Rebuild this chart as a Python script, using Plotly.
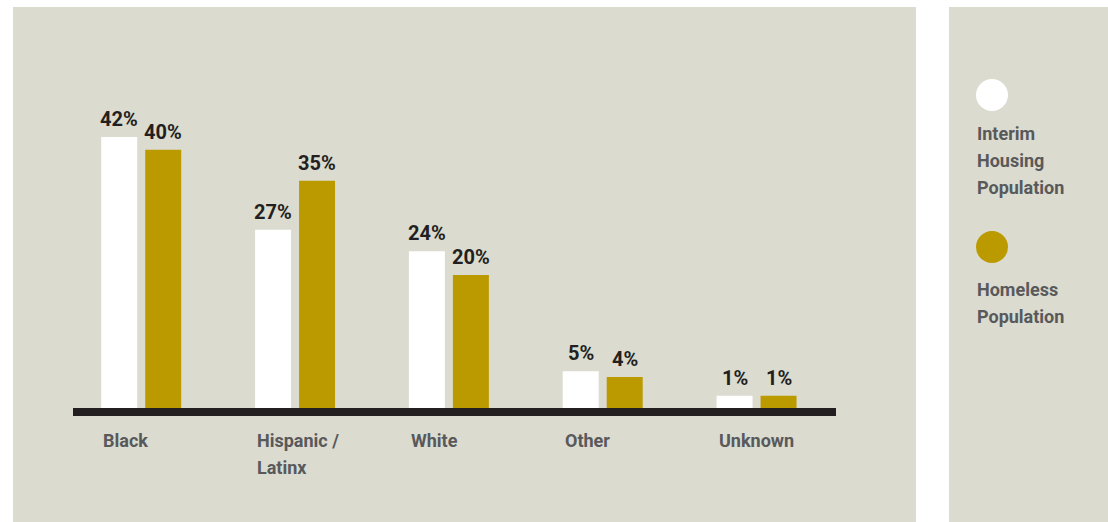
import plotly.graph_objects as go

# ---------------- data ----------------
categories = ["Black", "Hispanic /<br>Latinx", "White", "Other", "Unknown"]
series_names = ["Interim<br>Housing<br>Population", "Homeless<br>Population"]
interim_values = [42.0, 27.6, 24.3, 5.7, 1.9]
homeless_values = [40.0, 35.2, 20.6, 4.8, 1.9]
interim_labels = ["42%", "27%", "24%", "5%", "1%"]
homeless_labels = ["40%", "35%", "20%", "4%", "1%"]

# ---------------- styling ----------------
W, H = 1108, 522
BG = "#dcdbd0"
GOLD = "#bb9a00"
WHITE = "#ffffff"
DARK = "#231f20"
GRAY = "#58595b"
FONT = "Roboto, Liberation Sans, sans-serif"
LINE_H = 27  # px between text lines


def px(x):
    return x / W


def py(y):
    return (H - y) / H


fig = go.Figure()
fig.add_trace(go.Bar(x=categories, y=interim_values, name=series_names[0],
                     marker=dict(color=WHITE, line=dict(width=0)), showlegend=False))
fig.add_trace(go.Bar(x=categories, y=homeless_values, name=series_names[1],
                     marker=dict(color=GOLD, line=dict(width=0)), showlegend=False))

annotations = []
for cat, v, lab in zip(categories, interim_values, interim_labels):
    annotations.append(dict(x=cat, y=v, xref="x", yref="y", text=lab, showarrow=False,
                            xanchor="center", yanchor="bottom", xshift=-22, yshift=4,
                            font=dict(family=FONT, size=20, color=DARK, weight="bold")))
for cat, v, lab in zip(categories, homeless_values, homeless_labels):
    annotations.append(dict(x=cat, y=v, xref="x", yref="y", text=lab, showarrow=False,
                            xanchor="center", yanchor="bottom", xshift=22, yshift=4,
                            font=dict(family=FONT, size=20, color=DARK, weight="bold")))
for cat in categories:
    for i, line in enumerate(cat.split("<br>")):
        annotations.append(dict(x=cat, y=py(440 + i * LINE_H), xref="x", yref="paper",
                                text=line, showarrow=False,
                                xanchor="left", yanchor="middle", align="left", xshift=-40,
                                font=dict(family=FONT, size=18, color=GRAY, weight="bold")))

# legend (custom)
legend_colors = [WHITE, GOLD]
legend_circle_cy = [95, 247]
legend_text_first = [133.5, 289.5]
shapes = [
    dict(type="rect", xref="paper", yref="paper", x0=px(13), x1=px(916), y0=0, y1=py(7),
         fillcolor=BG, line=dict(width=0), layer="below"),
    dict(type="rect", xref="paper", yref="paper", x0=px(949), x1=1, y0=0, y1=py(7),
         fillcolor=BG, line=dict(width=0), layer="below"),
    dict(type="rect", xref="paper", yref="paper", x0=px(73), x1=px(836), y0=py(416), y1=py(408),
         fillcolor=DARK, line=dict(width=0), layer="above"),
]
for name, col, cy, ty in zip(series_names, legend_colors, legend_circle_cy, legend_text_first):
    shapes.append(dict(type="circle", xref="paper", yref="paper",
                       x0=px(976), x1=px(1008), y0=py(cy + 16), y1=py(cy - 16),
                       fillcolor=col, line=dict(width=0)))
    for i, line in enumerate(name.split("<br>")):
        annotations.append(dict(x=px(975), y=py(ty + i * LINE_H), xref="paper", yref="paper",
                                text=line, showarrow=False, xanchor="left", yanchor="middle",
                                align="left",
                                font=dict(family=FONT, size=18, color=GRAY, weight="bold")))

fig.update_layout(
    width=W, height=H, autosize=False,
    margin=dict(l=0, r=0, t=0, b=0),
    paper_bgcolor=WHITE, plot_bgcolor="rgba(0,0,0,0)",
    barmode="group", bargap=0.428, bargroupgap=0.182,
    xaxis=dict(type="category", domain=[px(73), px(836)], range=[-0.4435, 4.5165],
               visible=False, fixedrange=True),
    yaxis=dict(domain=[py(408), py(85.25)], range=[0, 50], visible=False, fixedrange=True),
    shapes=shapes, annotations=annotations,
    showlegend=False,
)

fig.write_html("out.html", config={"displayModeBar": False},
               post_script="document.body.style.margin='0';")
